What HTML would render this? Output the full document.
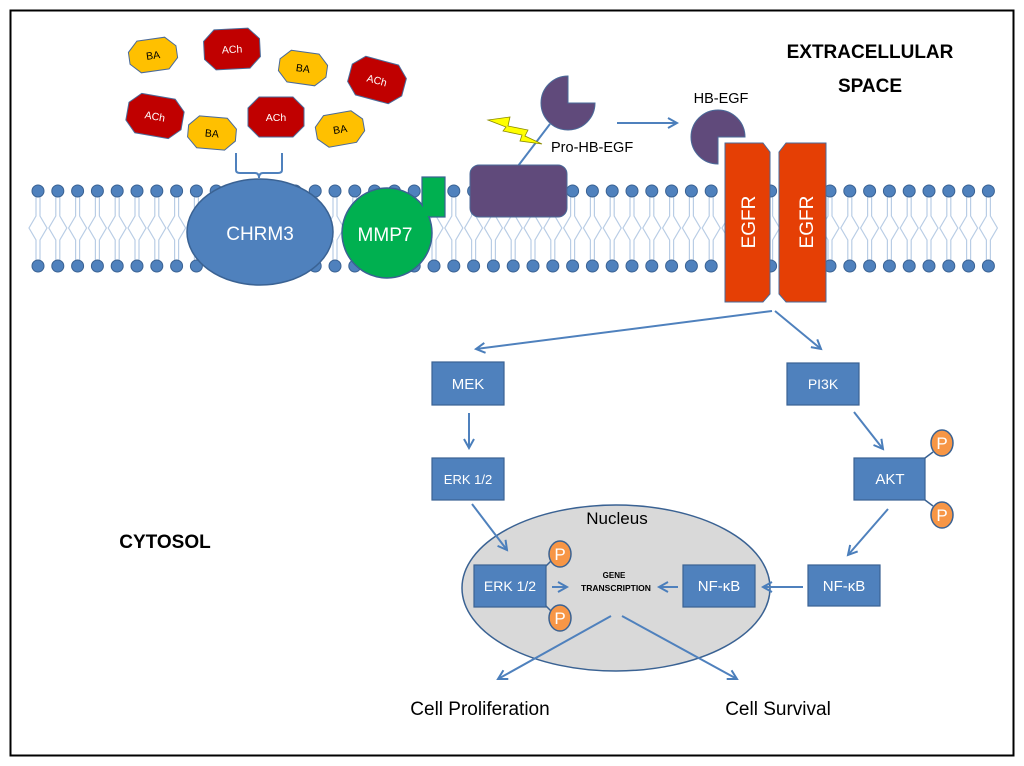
<!DOCTYPE html>
<html><head><meta charset="utf-8"><style>
html,body{margin:0;padding:0;background:#fff}
svg{display:block}
text{font-family:"Liberation Sans",sans-serif}
</style></head><body>
<svg width="1024" height="766" viewBox="0 0 1024 766" xmlns="http://www.w3.org/2000/svg">
<defs>
<marker id="ah" markerWidth="12" markerHeight="12" refX="10" refY="6" orient="auto" markerUnits="userSpaceOnUse">
<path d="M1,1 L10,6 L1,11" fill="none" stroke="#4a7ebb" stroke-width="2"/>
</marker>
</defs>
<rect x="10.5" y="10.5" width="1003" height="745" fill="#fff" stroke="#000" stroke-width="2"/>

<g id="mem"></g>

<g font-size="10.5" text-anchor="middle" stroke="#4a6a99" stroke-width="1">
<g transform="translate(153,55) rotate(-8)"><polygon points="-14,-16 14,-16 24,-6 24,6 14,16 -14,16 -24,6 -24,-6" fill="#ffc000"/><text y="4" stroke="none" fill="#000">BA</text></g>
<g transform="translate(232,49) rotate(-3)"><polygon points="-17,-20 17,-20 28,-9 28,9 17,20 -17,20 -28,9 -28,-9" fill="#c00000"/><text y="4" stroke="none" fill="#fff">ACh</text></g>
<g transform="translate(303,68) rotate(8)"><polygon points="-14,-16 14,-16 24,-6 24,6 14,16 -14,16 -24,6 -24,-6" fill="#ffc000"/><text y="4" stroke="none" fill="#000">BA</text></g>
<g transform="translate(377,80) rotate(15)"><polygon points="-17,-20 17,-20 28,-9 28,9 17,20 -17,20 -28,9 -28,-9" fill="#c00000"/><text y="4" stroke="none" fill="#fff">ACh</text></g>
<g transform="translate(155,116) rotate(10)"><polygon points="-17,-20 17,-20 28,-9 28,9 17,20 -17,20 -28,9 -28,-9" fill="#c00000"/><text y="4" stroke="none" fill="#fff">ACh</text></g>
<g transform="translate(212,133) rotate(5)"><polygon points="-14,-16 14,-16 24,-6 24,6 14,16 -14,16 -24,6 -24,-6" fill="#ffc000"/><text y="4" stroke="none" fill="#000">BA</text></g>
<g transform="translate(276,117)"><polygon points="-17,-20 17,-20 28,-9 28,9 17,20 -17,20 -28,9 -28,-9" fill="#c00000"/><text y="4" stroke="none" fill="#fff">ACh</text></g>
<g transform="translate(340,129) rotate(-10)"><polygon points="-14,-16 14,-16 24,-6 24,6 14,16 -14,16 -24,6 -24,-6" fill="#ffc000"/><text y="4" stroke="none" fill="#000">BA</text></g>
</g>

<path d="M236,153 V170 Q236,173 240,173 H255 Q259,173 259,178 Q259,173 263,173 H278 Q282,173 282,170 V153" fill="none" stroke="#4f81bd" stroke-width="2"/>

<ellipse cx="260" cy="232" rx="73" ry="53" fill="#4f81bd" stroke="#3a6293" stroke-width="1.5"/>
<text x="260" y="240" font-size="19" fill="#fff" text-anchor="middle">CHRM3</text>
<rect x="422" y="177" width="23" height="40" fill="#00b050" stroke="#3a6293" stroke-width="1.2"/>
<circle cx="387" cy="233" r="45" fill="#00b050" stroke="#3a6293" stroke-width="1.5"/>
<rect x="423" y="190" width="21" height="26" fill="#00b050"/>
<text x="385" y="241" font-size="19" fill="#fff" text-anchor="middle">MMP7</text>

<line x1="518" y1="166" x2="550" y2="124" stroke="#4f81bd" stroke-width="2"/>
<polygon points="488,120 510,117 508,126 528,130 525,136 542,144 520,141 522,135 503,131 506,127" fill="#ffff00" stroke="#8a8a00" stroke-width="0.8"/>
<path d="M568,103 L568,76 A27,27 0 1 0 595,103 Z" fill="#604a7b" stroke="#4a6a99" stroke-width="1"/>
<rect x="470" y="165" width="97" height="52" rx="9" fill="#604a7b" stroke="#4a6a99" stroke-width="1"/>
<text x="551" y="152" font-size="14.5">Pro-HB-EGF</text>
<line x1="617" y1="123" x2="677" y2="123" stroke="#4f81bd" stroke-width="2" marker-end="url(#ah)"/>
<text x="721" y="103" font-size="14.5" text-anchor="middle">HB-EGF</text>
<path d="M718,137 L745,137 A27,27 0 1 0 718,164 Z" fill="#604a7b" stroke="#4a6a99" stroke-width="1"/>

<polygon points="725,143 763,143 770,152 770,294 763,302 725,302" fill="#e53f05" stroke="#4a6a99" stroke-width="1"/>
<polygon points="786,143 826,143 826,302 786,302 779,294 779,152" fill="#e53f05" stroke="#4a6a99" stroke-width="1"/>
<text transform="translate(755,222) rotate(-90)" font-size="19" fill="#fff" text-anchor="middle">EGFR</text>
<text transform="translate(813,222) rotate(-90)" font-size="19" fill="#fff" text-anchor="middle">EGFR</text>

<text x="870" y="58" font-size="19" font-weight="bold" text-anchor="middle">EXTRACELLULAR</text>
<text x="870" y="92" font-size="19" font-weight="bold" text-anchor="middle">SPACE</text>
<text x="165" y="548" font-size="19" font-weight="bold" text-anchor="middle">CYTOSOL</text>

<g stroke="#4f81bd" stroke-width="2" fill="none" marker-end="url(#ah)">
<line x1="772" y1="311" x2="476" y2="349"/>
<line x1="775" y1="311" x2="821" y2="349"/>
<line x1="469" y1="413" x2="469" y2="448"/>
<line x1="854" y1="412" x2="883" y2="449"/>
<line x1="888" y1="509" x2="848" y2="555"/>
</g>

<ellipse cx="616" cy="588" rx="154" ry="83" fill="#d9d9d9" stroke="#3a6293" stroke-width="1.5"/>
<text x="617" y="524" font-size="17" text-anchor="middle">Nucleus</text>
<g stroke="#4f81bd" stroke-width="2" fill="none" marker-end="url(#ah)">
<line x1="472" y1="504" x2="507" y2="550"/>
<line x1="552" y1="587" x2="567" y2="587"/>
<line x1="678" y1="587" x2="659" y2="587"/>
<line x1="803" y1="587" x2="763" y2="587"/>
<line x1="611" y1="616" x2="498" y2="679"/>
<line x1="622" y1="616" x2="737" y2="679"/>
</g>
<text x="614" y="578" font-size="8" font-weight="bold" text-anchor="middle">GENE</text>
<text x="616" y="591" font-size="8.5" font-weight="bold" text-anchor="middle">TRANSCRIPTION</text>

<g stroke="#3a6293" stroke-width="1.5">
<line x1="546" y1="566" x2="552" y2="560"/>
<line x1="546" y1="606" x2="552" y2="612"/>
<line x1="925" y1="458" x2="933" y2="452"/>
<line x1="925" y1="500" x2="933" y2="506"/>
</g>
<g fill="#f79646" stroke="#3a6293" stroke-width="1.5">
<ellipse cx="560" cy="554" rx="11" ry="13"/>
<ellipse cx="560" cy="618" rx="11" ry="13"/>
<ellipse cx="942" cy="443" rx="11" ry="13"/>
<ellipse cx="942" cy="515" rx="11" ry="13"/>
</g>
<g font-size="17" fill="#fff" text-anchor="middle">
<text x="560" y="560">P</text><text x="560" y="624">P</text>
<text x="942" y="449">P</text><text x="942" y="521">P</text>
</g>

<g fill="#4f81bd" stroke="#3a6293" stroke-width="1.2">
<rect x="432" y="362" width="72" height="43"/>
<rect x="432" y="458" width="72" height="42"/>
<rect x="787" y="363" width="72" height="42"/>
<rect x="854" y="458" width="71" height="42"/>
<rect x="808" y="565" width="72" height="41"/>
<rect x="474" y="565" width="72" height="42"/>
<rect x="683" y="565" width="72" height="42"/>
</g>
<g fill="#fff" text-anchor="middle">
<text x="468" y="389" font-size="15">MEK</text>
<text x="468" y="484" font-size="13">ERK 1/2</text>
<text x="823" y="389" font-size="14">PI3K</text>
<text x="890" y="484" font-size="15">AKT</text>
<text x="844" y="591" font-size="15">NF-κB</text>
<text x="510" y="591" font-size="14">ERK 1/2</text>
<text x="719" y="591" font-size="15">NF-κB</text>
</g>

<text x="480" y="715" font-size="19" text-anchor="middle">Cell Proliferation</text>
<text x="778" y="715" font-size="19" text-anchor="middle">Cell Survival</text>
</svg>
<script>
(function(){
var ns="http://www.w3.org/2000/svg";
var mem=document.getElementById("mem");
var d="";
for(var i=0;i<49;i++){
 var x=38+19.8*i;
 d+="M"+(x-2)+",196 V216 L"+(x-9)+",228 L"+(x-2)+",240 V262 ";
 d+="M"+(x+2)+",196 V216 L"+(x+9)+",228 L"+(x+2)+",240 V262 ";
}
var p=document.createElementNS(ns,"path");
p.setAttribute("d",d);p.setAttribute("stroke","#b9cde5");p.setAttribute("stroke-width","1.2");p.setAttribute("fill","none");
mem.appendChild(p);
for(var i=0;i<49;i++){
 var x=38+19.8*i;
 [191,266].forEach(function(y){
  var c=document.createElementNS(ns,"circle");
  c.setAttribute("cx",x);c.setAttribute("cy",y);c.setAttribute("r","6");
  c.setAttribute("fill","#4f81bd");c.setAttribute("stroke","#3a6293");c.setAttribute("stroke-width","1");
  mem.appendChild(c);
 });
}
})();
</script>
</body></html>
